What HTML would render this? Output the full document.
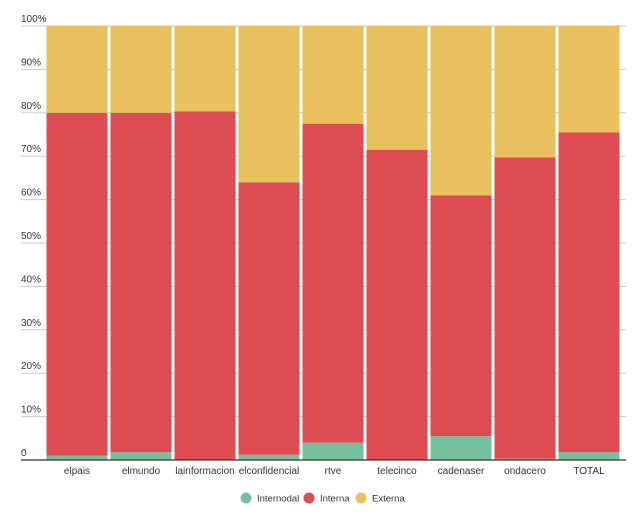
<!DOCTYPE html>
<html><head><meta charset="utf-8"><style>
body{margin:0;background:#fff;font-family:"Liberation Sans",sans-serif}
svg text{font-family:"Liberation Sans",sans-serif}
</style></head><body>
<svg id="c" width="640" height="517"></svg>
<script>
const categories=["elpais","elmundo","lainformacion","elconfidencial","rtve","telecinco","cadenaser","ondacero","TOTAL"];
const internodal=[1.0,1.8,0,1.2,4.0,0,5.5,0.3,1.8];
const interna=[79.0,78.2,80.3,62.8,73.5,71.5,55.5,69.4,73.7];
const externa=[20.0,20.0,19.7,36.0,22.5,28.5,39.0,30.3,24.5];
const yTicks=[0,10,20,30,40,50,60,70,80,90,100];
const colors={internodal:"#76c0a0",interna:"#dc4c52",externa:"#e9c05e"};
const svg=document.getElementById('c');const NS="http://www.w3.org/2000/svg";
const x0=45,x1=621,y0=460,y1=26;
const y=v=>y0-(v/100)*(y0-y1);
const bw=(x1-x0)/categories.length;
function mk(t,a,p){const e=document.createElementNS(NS,t);for(const k in a)e.setAttribute(k,a[k]);(p||svg).appendChild(e);return e;}
yTicks.forEach(t=>{
 const g=mk('line',{x1:21,x2:626,y1:y(t),y2:y(t),stroke:"#cccccc","stroke-width":1});
 
 
 const tx=mk('text',{x:21,y:y(t)-4,"font-size":10,fill:"#333"});
 tx.textContent=t===0?"0":t+"%";
 
 
});
categories.forEach((c,i)=>{
 const bx=x0+i*bw+1.5,w=bw-3;
 let base=0;
 [[internodal[i],colors.internodal,'internodal'],[interna[i],colors.interna,'interna'],[externa[i],colors.externa,'externa']].forEach(([v,col,n])=>{
  const top=(n==='externa')?100:base+v;
  const r=mk('rect',{x:bx,y:y(top),width:w,height:Math.max(0,y(base)-y(top)),fill:col});
  
  
  base=top;
 });
 const l=mk('text',{x:bx+w/2,y:474,"font-size":10,fill:"#333","text-anchor":"middle"});
 l.textContent=c;
 
 
});
const ax=mk('line',{x1:21,x2:626,y1:y0,y2:y0,stroke:"#333","stroke-width":1.2});


const leg=[["Internodal",colors.internodal,246],["Interna",colors.interna,309],["Externa",colors.externa,361]];
leg.forEach(([t,col,cx])=>{
 const cc=mk('circle',{cx:cx,cy:498,r:5.5,fill:col});
 
 
 const tt=mk('text',{x:cx+11,y:501.5,"font-size":9.5,fill:"#333"});
 tt.textContent=t;
 
 
});
</script>
</body></html>
